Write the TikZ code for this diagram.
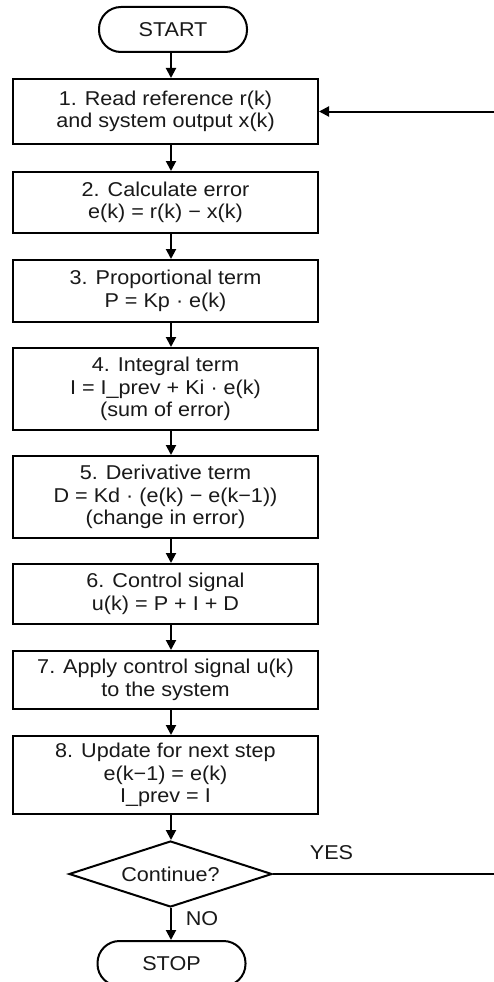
\documentclass[tikz,border=0pt]{standalone}
\usepackage{fontspec}
\setmainfont[FakeStretch=1.08]{Liberation Sans}
\usetikzlibrary{shapes.geometric,arrows.meta}
\begin{document}
\begin{tikzpicture}[x=1pt,y=-1pt,
  font=\fontsize{20pt}{22.5pt}\selectfont,
  line width=2pt,
  stepbox/.style={draw, rectangle, minimum width=305pt, inner sep=0pt, align=center, text=black!90},
  term/.style={draw, rectangle, rounded corners=22pt, minimum width=148pt, minimum height=45pt, inner sep=0pt, text=black!90},
  decision/.style={draw, diamond, shape aspect=3.1, minimum width=203pt, minimum height=66pt, inner sep=0pt, text=black!90},
  arr/.style={-{Triangle[length=10pt,width=10pt]}},
  lbl/.style={text=black!90, inner sep=0pt}]
\useasboundingbox[fill=white] (0,0) rectangle (494,982);
\coordinate (ax) at (171,0);
\node[term] (start) at (173,29.5) {START};
\node[stepbox, minimum height=65pt] (b1) at (165.5,111.5) {1. Read reference r(k)\\and system output x(k)};
\node[stepbox, minimum height=61pt] (b2) at (165.5,202.5) {2. Calculate error\\e(k) = r(k) − x(k)};
\node[stepbox, minimum height=62pt] (b3) at (165.5,291) {3. Proportional term\\P = Kp · e(k)};
\node[stepbox, minimum height=82pt] (b4) at (165.5,389) {4. Integral term\\I = I\_prev + Ki · e(k)\\(sum of error)};
\node[stepbox, minimum height=82pt] (b5) at (165.5,497) {5. Derivative term\\D = Kd · (e(k) − e(k−1))\\(change in error)};
\node[stepbox, minimum height=60pt] (b6) at (165.5,594) {6. Control signal\\u(k) = P + I + D};
\node[stepbox, minimum height=58pt] (b7) at (165.5,680) {7. Apply control signal u(k)\\to the system};
\node[stepbox, minimum height=78pt] (b8) at (165.5,775) {8. Update for next step\\e(k−1) = e(k)\\I\_prev = I};
\node[decision] (dec) at (170.5,874) {Continue?};
\node[term] (stop) at (171.5,963.5) {STOP};
\coordinate (fb) at (504,874);
\draw[arr] (start.south -| ax) -- (b1.north -| ax);
\draw[arr] (b1.south -| ax) -- (b2.north -| ax);
\draw[arr] (b2.south -| ax) -- (b3.north -| ax);
\draw[arr] (b3.south -| ax) -- (b4.north -| ax);
\draw[arr] (b4.south -| ax) -- (b5.north -| ax);
\draw[arr] (b5.south -| ax) -- (b6.north -| ax);
\draw[arr] (b6.south -| ax) -- (b7.north -| ax);
\draw[arr] (b7.south -| ax) -- (b8.north -| ax);
\draw[arr] (b8.south -| ax) -- (dec.north -| ax);
\draw[arr] (dec.south -| ax) -- (stop.north -| ax);
\draw[arr] (dec.east) -- (fb) |- (b1.east);
\node[lbl] (yes) at (331.5,853) {YES};
\node[lbl] (no) at (202,919) {NO};
\end{tikzpicture}
\end{document}
